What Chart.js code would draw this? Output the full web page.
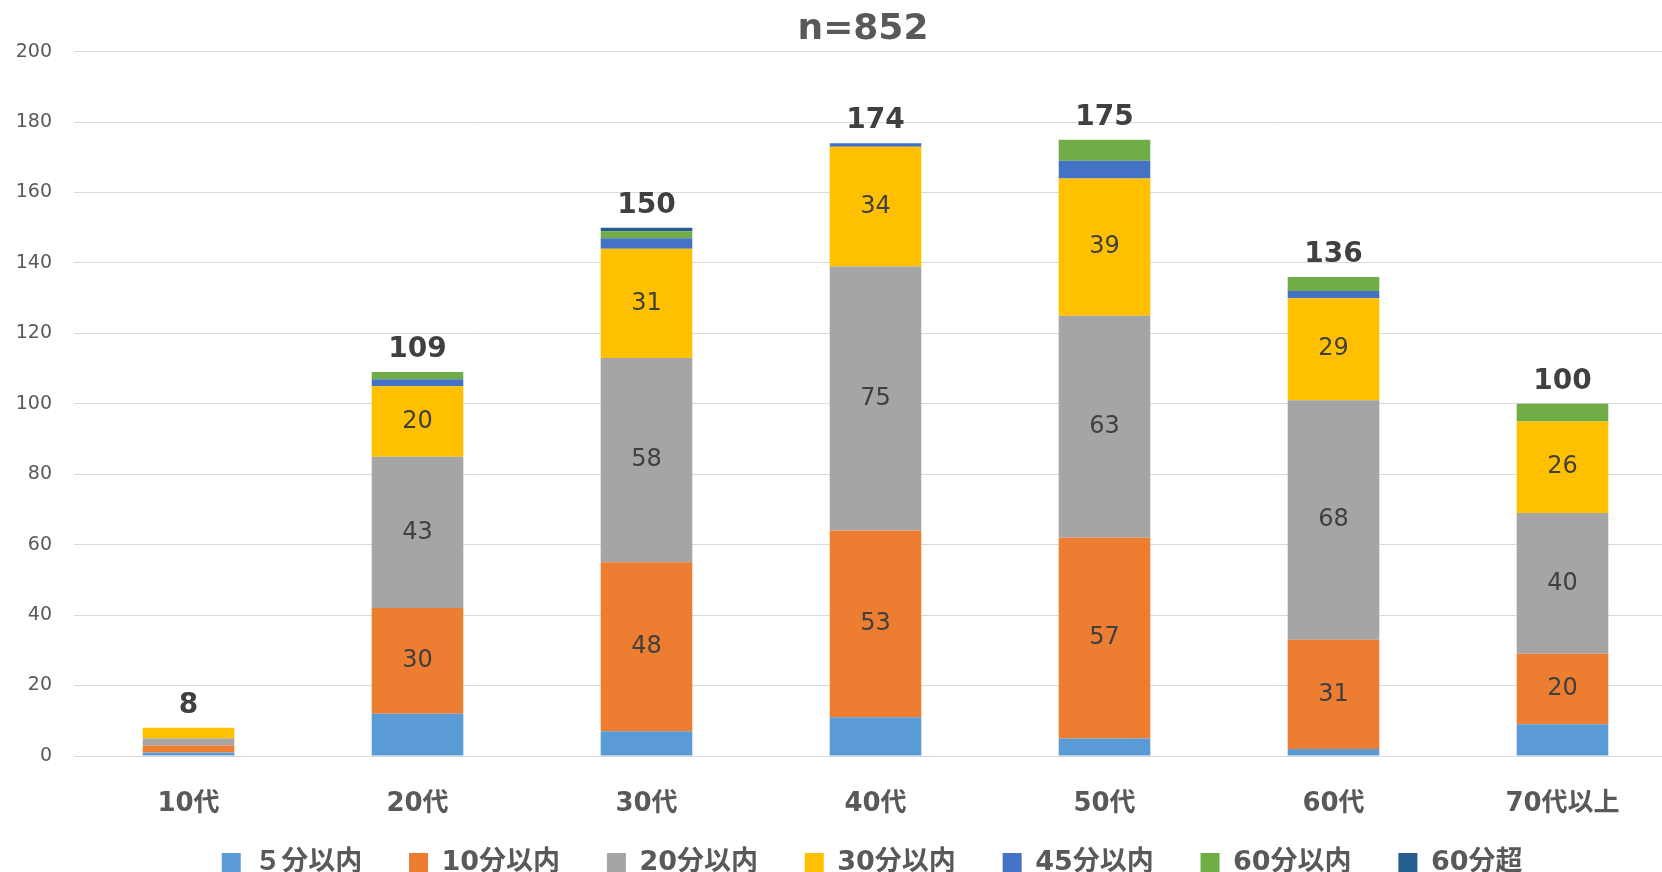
<!DOCTYPE html>
<html>
<head>
<meta charset="utf-8">
<script src="https://cdn.jsdelivr.net/npm/chart.js@4.4.1/dist/chart.umd.min.js"></script>
<style>
  html, body { margin: 0; padding: 0; background: #fff; overflow: hidden; width: 1662px; height: 872px; }
  #wrap { width: 1677px; height: 886px; }
</style>
</head>
<body>
<div id="wrap"><canvas id="chart" width="1677" height="886"></canvas></div>
<script>
// Age groups and commute-time series
const categories = ['10代', '20代', '30代', '40代', '50代', '60代', '70代以上'];
const seriesNames = ['５分以内', '10分以内', '20分以内', '30分以内', '45分以内', '60分以内', '60分超'];
const within5 = [1, 12, 7, 11, 5, 2, 9];
const within10 = [2, 30, 48, 53, 57, 31, 20];
const within20 = [2, 43, 58, 75, 63, 68, 40];
const within30 = [3, 20, 31, 34, 39, 29, 26];
const within45 = [0, 2, 3, 1, 5, 2, 0];
const within60 = [0, 2, 2, 0, 6, 4, 5];
const over60 = [0, 0, 1, 0, 0, 0, 0];
const yTicks = [0, 20, 40, 60, 80, 100, 120, 140, 160, 180, 200];

const seriesColors = ['#5B9BD5', '#ED7D31', '#A5A5A5', '#FFC000', '#4472C4', '#70AD47', '#255E91'];
const seriesValues = [within5, within10, within20, within30, within45, within60, over60];
// only these series get a value printed inside the bar
const labelledSeries = [1, 2, 3];

const totals = categories.map((_, i) => seriesValues.reduce((s, arr) => s + arr[i], 0));
const grandTotal = totals.reduce((a, b) => a + b, 0);

const FONT = '"DejaVu Sans", "Noto Sans CJK JP", sans-serif';

// Draw segment values and stack totals
const labelPlugin = {
    id: 'barLabels',
    afterLayout(chart) {
        // the original chart is cropped on the right, so nudge title and legend
        chart.titleBlock.left += 24.5;
        chart.titleBlock.right += 24.5;
        chart.legend.left += 43;
        chart.legend.right += 43;
    },
    afterDatasetsDraw(chart) {
        const ctx = chart.ctx;
        const yScale = chart.scales.y;
        ctx.save();
        ctx.textAlign = 'center';
        ctx.textBaseline = 'middle';
        ctx.fillStyle = '#404040';
        ctx.font = '24px ' + FONT;
        labelledSeries.forEach(di => {
            const meta = chart.getDatasetMeta(di);
            meta.data.forEach((bar, i) => {
                const v = chart.data.datasets[di].data[i];
                if (v < 10) return;
                ctx.fillText(String(v), bar.x, (bar.y + bar.base) / 2);
            });
        });
        ctx.font = 'bold 28px ' + FONT;
        const meta0 = chart.getDatasetMeta(0);
        totals.forEach((t, i) => {
            const x = meta0.data[i].x;
            ctx.fillText(String(t), x, yScale.getPixelForValue(t) - 22);
        });
        ctx.restore();
    }
};

const ctx = document.getElementById('chart').getContext('2d');
const chart = new Chart(ctx, {
    type: 'bar',
    data: {
        labels: categories,
        datasets: seriesNames.map((name, i) => ({
            label: name,
            data: seriesValues[i],
            backgroundColor: seriesColors[i],
            borderWidth: 0,
            barPercentage: 0.4,
            categoryPercentage: 1.0
        }))
    },
    options: {
        responsive: false,
        animation: false,
        layout: { padding: 0 },
        plugins: {
            title: {
                display: true,
                text: 'n=' + grandTotal,
                color: '#595959',
                font: { family: FONT, size: 36, weight: 'bold', lineHeight: 1.1 },
                padding: { top: 10, bottom: 2 }
            },
            legend: {
                position: 'bottom',
                labels: {
                    color: '#595959',
                    font: { family: FONT, size: 27, weight: 'bold' },
                    boxWidth: 19,
                    boxHeight: 19,
                    padding: 28,
                    generateLabels(chart) {
                        const items = Chart.defaults.plugins.legend.labels.generateLabels(chart);
                        // extra gap between legend entries
                        items.forEach(it => { it.text = it.text + '  '; });
                        return items;
                    }
                }
            },
            tooltip: { enabled: false }
        },
        scales: {
            x: {
                stacked: true,
                grid: { display: false, drawTicks: false },
                border: { display: true, color: '#D9D9D9', width: 1 },
                ticks: {
                    color: '#595959',
                    font: { family: FONT, size: 26, weight: 'bold' },
                    padding: 33
                },
                afterFit(scale) { scale.height = 65; }
            },
            y: {
                stacked: true,
                min: 0,
                max: 200,
                afterBuildTicks(scale) { scale.ticks = yTicks.map(v => ({ value: v })); },
                grid: { color: '#D9D9D9', drawTicks: false },
                border: { display: false },
                ticks: {
                    color: '#595959',
                    font: { family: FONT, size: 19 },
                    padding: 22
                },
                afterFit(scale) { scale.width = 74; }
            }
        }
    },
    plugins: [labelPlugin]
});
</script>
</body>
</html>
